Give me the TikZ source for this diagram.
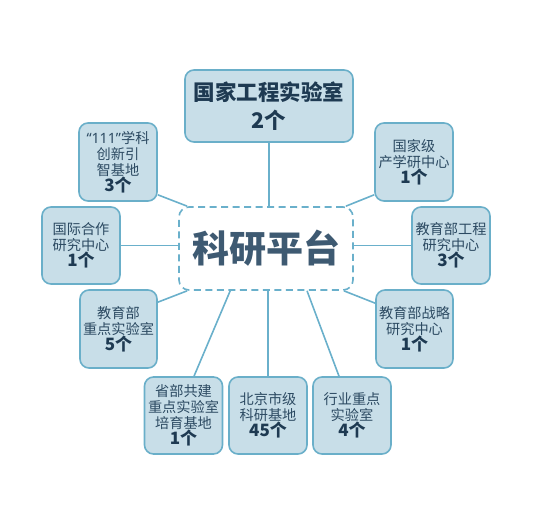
\documentclass[tikz,border=0pt]{standalone}
\usepackage{fontspec}
\setmainfont{Noto Sans CJK SC}
\newfontfamily\latf{Noto Sans}
\definecolor{boxc}{HTML}{C8DEE8}
\definecolor{bordc}{HTML}{6AAFC9}
\definecolor{linec}{HTML}{6AB0CB}
\definecolor{txtc}{HTML}{2C4A62}
\definecolor{numc}{HTML}{1E3A52}
\definecolor{ctrc}{HTML}{3E5A72}
\tikzset{
  box/.style={draw=bordc, line width=1.6pt, fill=boxc, rounded corners=9pt,
    minimum width=78pt, minimum height=78pt, align=center, inner sep=1pt,
    font=\fontsize{14.2}{16}\selectfont, text=txtc},
  topbox/.style={box, minimum width=168pt, minimum height=72pt,
    font=\fontsize{21.5}{28}\selectfont\bfseries, text=numc},
  ctr/.style={draw=linec, line width=1.6pt, dash pattern=on 7pt off 4.5pt, fill=white,
    rounded corners=10pt, minimum width=174pt, minimum height=83pt,
    font=\fontsize{37}{40}\selectfont\bfseries, text=ctrc},
  conn/.style={draw=linec, line width=1.6pt}
}
\newcommand{\num}[1]{{\fontsize{17}{18}\selectfont\bfseries\color{numc}#1}}
\begin{document}
\begin{tikzpicture}[x=1pt,y=-1pt]
\useasboundingbox (0,0) rectangle (537,518);
\coordinate (cc) at (266,248.5);
\node[topbox] (top) at (269,106) {国家工程实验室\\2个};
\node[box] (b111) at (118,162) {{\latf “111”}学科\\创新引\\智基地\\\num{3个}};
\node[box, minimum height=77pt] (gj) at (81,245.5) {国际合作\\研究中心\\\num{1个}};
\node[box, minimum width=77pt] (jz) at (118.5,329) {教育部\\重点实验室\\\num{5个}};
\node[box, minimum height=77pt] (sb) at (183.5,415.5) {省部共建\\重点实验室\\培育基地\\\num{1个}};
\node[box, minimum height=77pt] (bj) at (268,415.5) {北京市级\\科研基地\\\num{45个}};
\node[box, minimum height=77pt] (hy) at (352,415.5) {行业重点\\实验室\\\num{4个}};
\node[box, minimum width=77pt] (zl) at (414.5,329) {教育部战略\\研究中心\\\num{1个}};
\node[box, minimum height=77pt] (gc) at (451,245.5) {教育部工程\\研究中心\\\num{3个}};
\node[box] (gjj) at (414,162) {国家级\\产学研中心\\\num{1个}};
\node[ctr] (c) at (cc) {科研平台};
\draw[conn] (top.south) -- (top.south |- c.north);
\draw[conn] ([yshift=7pt]b111.south east) -- ([xshift=9pt]c.north west);
\draw[conn] (gj.east) -- (gj.east -| c.west);
\draw[conn] ([yshift=-13pt]jz.north east) -- ([xshift=9pt]c.south west);
\draw[conn] ([xshift=10.5pt]sb.north) -- ([xshift=52pt]c.south west);
\draw[conn] (bj.north) -- (bj.north |- c.south);
\draw[conn] ([xshift=-13pt]hy.north) -- ([xshift=41pt]c.south);
\draw[conn] ([yshift=-14pt]zl.north west) -- ([xshift=-10pt]c.south east);
\draw[conn] (gc.west) -- (gc.west -| c.east);
\draw[conn] ([yshift=7pt]gjj.south west) -- ([xshift=-8pt]c.north east);
\end{tikzpicture}
\end{document}
